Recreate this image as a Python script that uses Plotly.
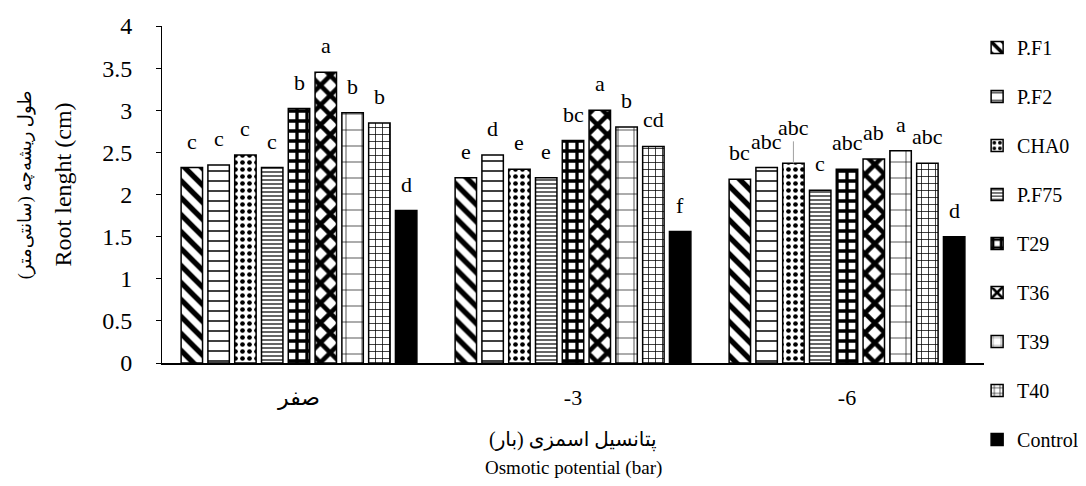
import plotly.graph_objects as go

# ---- data ----
categories = ["صفر", "-3", "-6"]

pf1 = [2.32, 2.20, 2.18]
pf2 = [2.35, 2.47, 2.32]
cha0 = [2.47, 2.30, 2.37]
pf75 = [2.32, 2.20, 2.05]
t29 = [3.02, 2.64, 2.30]
t36 = [3.45, 3.00, 2.42]
t39 = [2.97, 2.80, 2.52]
t40 = [2.85, 2.57, 2.37]
control = [1.81, 1.56, 1.50]

let_pf1 = ["c", "e", "bc"]
let_pf2 = ["c", "d", "abc"]
let_cha0 = ["c", "e", "abc"]
let_pf75 = ["c", "e", "c"]
let_t29 = ["b", "bc", "abc"]
let_t36 = ["a", "a", "ab"]
let_t39 = ["b", "b", "a"]
let_t40 = ["b", "cd", "abc"]
let_control = ["d", "f", "d"]

series = [
    ("P.F1", pf1, let_pf1),
    ("P.F2", pf2, let_pf2),
    ("CHA0", cha0, let_cha0),
    ("P.F75", pf75, let_pf75),
    ("T29", t29, let_t29),
    ("T36", t36, let_t36),
    ("T39", t39, let_t39),
    ("T40", t40, let_t40),
    ("Control", control, let_control),
]

# ---- styles ----
patterns = {
    "P.F1": dict(shape="\\", size=12, solidity=0.45),
    "P.F2": dict(shape="-", size=10, solidity=0.15),
    "CHA0": dict(shape=".", size=7, solidity=0.35),
    "P.F75": dict(shape="-", size=4, solidity=0.3),
    "T29": dict(shape="+", size=10, solidity=0.55),
    "T36": dict(shape="x", size=14, solidity=0.55),
    "T39": dict(shape="+", size=16, solidity=0.08),
    "T40": dict(shape="+", size=7, solidity=0.2),
}
# labels that are lifted with a leader line in the original: (series, category index)
lifted_labels = {("CHA0", 2)}

FONT = "Liberation Serif, Times New Roman, DejaVu Serif, DejaVu Sans, serif"
BARGAP = 0.12
BARGROUPGAP = 0.2

fig = go.Figure()
n = len(series)
slot = (1 - BARGAP) / n
annotations = []
for j, (name, vals, lets) in enumerate(series):
    if name == "Control":
        marker = dict(color="black", line=dict(color="black", width=1.5))
    else:
        p = patterns[name]
        marker = dict(
            color="white",
            line=dict(color="black", width=1.5),
            pattern=dict(shape=p["shape"], size=p["size"], solidity=p["solidity"],
                         fgcolor="black", bgcolor="white", fillmode="replace"),
        )
    fig.add_trace(go.Bar(name=name, x=categories, y=vals, marker=marker,
                         legendgroup=name, hoverinfo="x+y+name"))
    # significance letters placed above each bar through the axis scales
    for i, (v, t) in enumerate(zip(vals, lets)):
        xpos = i - (1 - BARGAP) / 2 + (j + 0.5) * slot
        if (name, i) in lifted_labels:
            annotations.append(dict(
                x=xpos, y=v, xref="x", yref="y", text=t, showarrow=True,
                arrowhead=0, arrowwidth=1, arrowcolor="#a0a0a0", ax=0, ay=-36,
                font=dict(family=FONT, size=22, color="black")))
        else:
            annotations.append(dict(
                x=xpos, y=v, xref="x", yref="y", text=t, showarrow=False,
                yanchor="bottom", yshift=12,
                font=dict(family=FONT, size=22, color="black")))

annotations += [
    dict(text="Root lenght (cm)", xref="paper", yref="paper", x=-0.1204, y=0.53,
         xanchor="center", yanchor="middle", textangle=-90, showarrow=False,
         font=dict(family=FONT, size=24)),
    dict(text="طول ریشه‌چه (سانتی‌متر)", xref="paper", yref="paper", x=-0.1667, y=0.53,
         xanchor="center", yanchor="middle", textangle=-90, showarrow=False,
         font=dict(family=FONT, size=18)),
    dict(text="پتانسیل اسمزی (بار)", xref="paper", yref="paper", x=0.5, y=-0.2285,
         xanchor="center", yanchor="middle", showarrow=False,
         font=dict(family=FONT, size=20)),
    dict(text="Osmotic potential (bar)", xref="paper", yref="paper", x=0.5, y=-0.312,
         xanchor="center", yanchor="middle", showarrow=False,
         font=dict(family=FONT, size=19)),
]

# the page body adds an 8px margin, so the figure is 8px smaller than the window
fig.update_layout(
    width=1078, height=478,
    paper_bgcolor="white", plot_bgcolor="white",
    margin=dict(l=154, r=102, t=18, b=123, autoexpand=False),
    barmode="group", bargap=BARGAP, bargroupgap=BARGROUPGAP,
    font=dict(family=FONT, size=20, color="black"),
    showlegend=True,
    legend=dict(xref="container", yref="container", x=0.899, xanchor="left",
                y=0.958, yanchor="top", maxheight=1,
                font=dict(family=FONT, size=20, color="black"),
                tracegroupgap=20, itemwidth=30, bgcolor="rgba(0,0,0,0)"),
    xaxis=dict(showline=True, linecolor="black", linewidth=1.5, ticks="",
               showgrid=False, ticklabelstandoff=14, automargin=False,
               tickfont=dict(family=FONT, size=22)),
    yaxis=dict(range=[0, 4], dtick=0.5, showline=True, linecolor="black", linewidth=1,
               ticks="outside", ticklen=5, tickcolor="black", showgrid=False,
               zeroline=False, tickfont=dict(family=FONT, size=24), automargin=False,
               tickformat="~g", ticklabelstandoff=19),
    annotations=annotations,
)

fig.write_html("out.html")
